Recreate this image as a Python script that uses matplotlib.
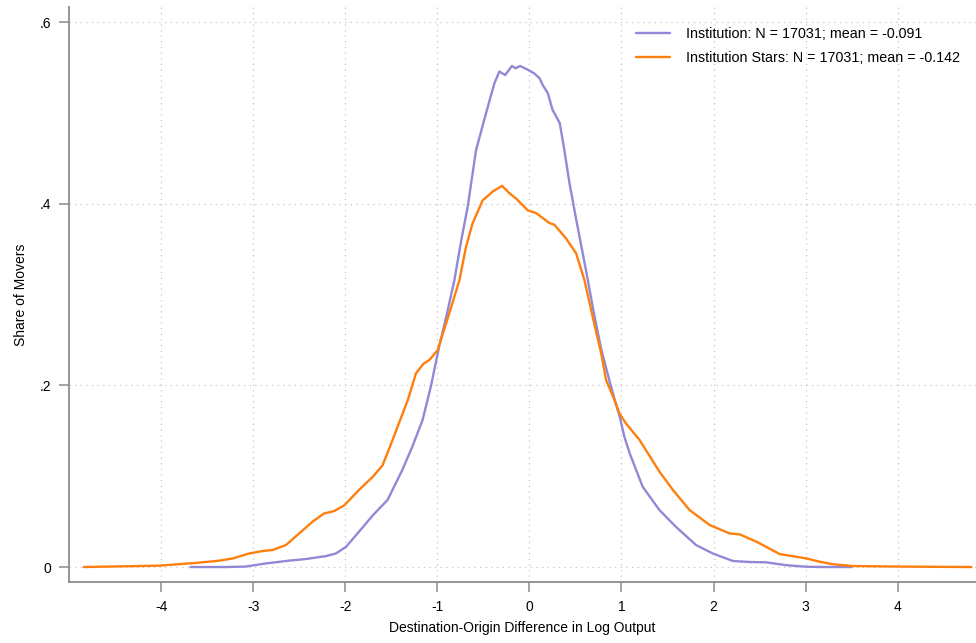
import matplotlib
matplotlib.use("Agg")
import matplotlib.pyplot as plt
from matplotlib.ticker import FixedLocator

plt.rcParams['font.family'] = ['Liberation Sans', 'DejaVu Sans']

# Kernel density of destination-origin log output difference
inst_x = [-3.68, -3.30, -3.08, -2.86, -2.61, -2.43, -2.21, -2.10, -1.99, -1.85,
          -1.70, -1.54, -1.38, -1.27, -1.16, -1.07, -0.98, -0.90, -0.815, -0.74,
          -0.67, -0.58, -0.49, -0.43, -0.38, -0.326, -0.264, -0.19, -0.15, -0.10,
          -0.02, 0.05, 0.11, 0.145, 0.20, 0.25, 0.33, 0.38, 0.435, 0.51,
          0.62, 0.70, 0.78, 0.87, 0.93, 0.98, 1.03, 1.09, 1.23, 1.41,
          1.59, 1.81, 1.99, 2.21, 2.40, 2.57, 2.79, 3.01, 3.20, 3.50]
inst_y = [0.0, 0.0, 0.0005, 0.004, 0.007, 0.0088, 0.012, 0.015, 0.0224, 0.039,
          0.057, 0.074, 0.107, 0.133, 0.162, 0.199, 0.243, 0.277, 0.316, 0.360,
          0.397, 0.459, 0.493, 0.515, 0.533, 0.546, 0.542, 0.552, 0.5495, 0.552,
          0.548, 0.544, 0.5385, 0.531, 0.522, 0.504, 0.489, 0.459, 0.423, 0.382,
          0.324, 0.280, 0.240, 0.205, 0.183, 0.166, 0.144, 0.125, 0.0885, 0.063,
          0.0444, 0.0242, 0.015, 0.0066, 0.0055, 0.0052, 0.002, 0.0003, 0.0, 0.0]

stars_x = [-4.84, -4.40, -4.02, -3.59, -3.37, -3.22, -3.04, -2.90, -2.79, -2.645,
           -2.50, -2.355, -2.23, -2.12, -2.01, -1.85, -1.70, -1.595, -1.486, -1.377,
           -1.32, -1.232, -1.15, -1.087, -0.996, -0.87, -0.76, -0.688, -0.616, -0.507,
           -0.40, -0.297, -0.217, -0.145, -0.018, 0.072, 0.217, 0.272, 0.398, 0.507,
           0.598, 0.70, 0.78, 0.833, 0.924, 0.978, 1.05, 1.196, 1.413, 1.558,
           1.739, 1.957, 2.174, 2.283, 2.464, 2.717, 3.007, 3.15, 3.30, 3.51,
           4.00, 4.80]
stars_y = [0.0, 0.0008, 0.0015, 0.0048, 0.007, 0.0095, 0.015, 0.0176, 0.0187, 0.0242,
           0.037, 0.050, 0.059, 0.0617, 0.068, 0.085, 0.0995, 0.112, 0.140, 0.169,
           0.184, 0.2134, 0.224, 0.228, 0.239, 0.2796, 0.316, 0.353, 0.379, 0.404,
           0.4136, 0.420, 0.4118, 0.406, 0.393, 0.390, 0.379, 0.377, 0.362, 0.3457,
           0.316, 0.270, 0.235, 0.206, 0.184, 0.169, 0.158, 0.140, 0.105, 0.085,
           0.0628, 0.0463, 0.037, 0.036, 0.028, 0.0143, 0.0095, 0.0059, 0.003, 0.0011,
           0.0005, 0.0]

labels = ["Institution: N = 17031; mean = -0.091",
          "Institution Stars: N = 17031; mean = -0.142"]
colors = ["#9189d6", "#ff7f0e"]

x_ticks = [-4, -3, -2, -1, 0, 1, 2, 3, 4]
x_tick_labels = ["-4", "-3", "-2", "-1", "0", "1", "2", "3", "4"]
y_ticks = [0, 0.2, 0.4, 0.6]
y_tick_labels = ["0", ".2", ".4", ".6"]

fig = plt.figure(figsize=(9.76, 6.43), dpi=100)
ax = fig.add_axes([69 / 976, 61 / 643, 907 / 976, 575 / 643])

ax.plot(inst_x, inst_y, color=colors[0], lw=1.7, label=labels[0],
        solid_joinstyle='round', solid_capstyle='round')
ax.plot(stars_x, stars_y, color=colors[1], lw=1.7, label=labels[1],
        solid_joinstyle='round', solid_capstyle='round')

ax.set_xlim(-5.0, 4.85)
ax.set_ylim(-0.0165, 0.617)

ax.xaxis.set_major_locator(FixedLocator(x_ticks))
ax.set_xticklabels(x_tick_labels)
ax.yaxis.set_major_locator(FixedLocator(y_ticks))
ax.set_yticklabels(y_tick_labels)

ax.grid(True, linestyle=(0, (1, 3.5)), color="#c4c4c4", linewidth=0.9)
ax.set_axisbelow(True)

for side in ("top", "right"):
    ax.spines[side].set_visible(False)
for side in ("left", "bottom"):
    ax.spines[side].set_color("#8c8c8c")
    ax.spines[side].set_linewidth(1.3)

ax.tick_params(axis="both", direction="out", length=7, width=1.1, color="#8c8c8c",
               labelsize=10, labelcolor="#000000", pad=6)

ax.set_xlabel("Destination-Origin Difference in Log Output", fontsize=10, labelpad=5)
ax.set_ylabel("Share of Movers", fontsize=10, labelpad=8)

ax.legend(loc="upper left", bbox_to_anchor=(636 / 976, 1 - 27 / 643),
          bbox_transform=fig.transFigure, frameon=False, fontsize=10.3,
          handlelength=2.4, handletextpad=1.1, labelspacing=0.68,
          borderpad=0, borderaxespad=0)

fig.savefig("out.png", dpi=100)
